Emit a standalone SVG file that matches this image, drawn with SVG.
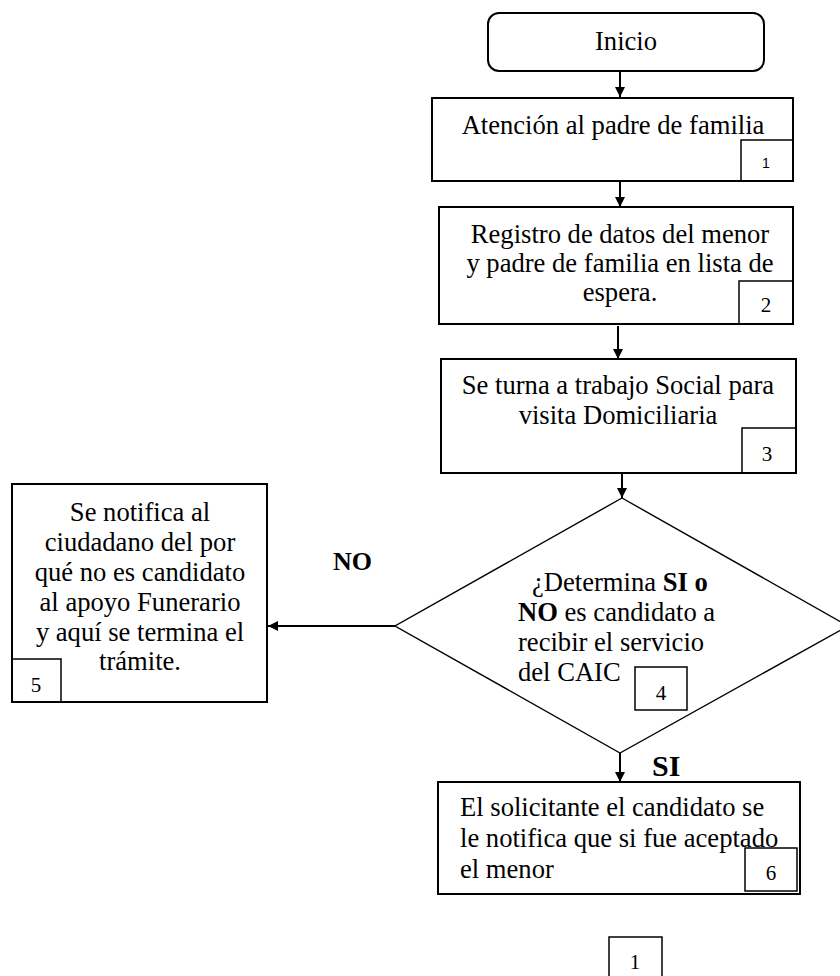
<svg xmlns="http://www.w3.org/2000/svg" width="840" height="976" viewBox="0 0 840 976">
  <style>
    .box { fill: #fff; stroke: #000; stroke-width: 2; }
    .tag { fill: none; stroke: #000; stroke-width: 1.5; }
    .dia { fill: #fff; stroke: #000; stroke-width: 1.4; }
    text { font-family: 'Liberation Serif', serif; fill: #000; }
    .t { font-size: 26.6px; }
    .c { text-anchor: middle; }
    .n { font-size: 21px; text-anchor: middle; }
    .ns { font-family: 'Liberation Sans', sans-serif; font-size: 14px; text-anchor: middle; }
    .lbl { font-weight: bold; }
    .line { stroke: #000; stroke-width: 2; fill: none; }
  </style>
  <defs>
    <marker id="ah" viewBox="0 0 10 10" refX="10" refY="5" markerWidth="5" markerHeight="6" markerUnits="strokeWidth" orient="auto">
      <path d="M0,0 L10,5 L0,10 z" fill="#000"/>
    </marker>
  </defs>

  <g id="connectors">
    <line class="line" x1="620" y1="71" x2="620" y2="97" marker-end="url(#ah)"/>
    <line class="line" x1="620" y1="181" x2="620" y2="207" marker-end="url(#ah)"/>
    <line class="line" x1="618" y1="326" x2="618" y2="359" marker-end="url(#ah)"/>
    <line class="line" x1="622" y1="473" x2="622" y2="498" marker-end="url(#ah)"/>
    <line class="line" x1="620" y1="753" x2="620" y2="782" marker-end="url(#ah)"/>
    <line class="line" x1="395" y1="626" x2="268" y2="626" marker-end="url(#ah)"/>
  </g>

  <g id="inicio">
    <rect class="box" x="488" y="13" width="276" height="58" rx="11"/>
    <text class="t c" x="626" y="50">Inicio</text>
  </g>

  <g id="paso1">
    <rect class="box" x="432" y="98" width="361" height="83"/>
    <text class="t c" x="613" y="134" font-size="28">Atención al padre de familia</text>
    <rect class="tag" x="741" y="140" width="52" height="41"/>
    <text class="ns" x="766" y="168">1</text>
  </g>

  <g id="paso2">
    <rect class="box" x="439" y="207" width="354" height="117"/>
    <text class="t c" x="620" y="243" font-size="26.4">Registro de datos del menor</text>
    <text class="t c" x="620" y="272" font-size="26.4">y padre de familia en lista de</text>
    <text class="t c" x="620" y="301" font-size="26.4">espera.</text>
    <rect class="tag" x="739" y="281" width="54" height="43"/>
    <text class="n" x="766" y="312">2</text>
  </g>

  <g id="paso3">
    <rect class="box" x="441" y="359" width="355" height="114"/>
    <text class="t c" x="618" y="394">Se turna a trabajo Social para</text>
    <text class="t c" x="618" y="424">visita Domiciliaria</text>
    <rect class="tag" x="742" y="428" width="54" height="45"/>
    <text class="n" x="767" y="461">3</text>
  </g>

  <g id="decision4">
    <polygon class="dia" points="622,498 848,626 620,753 395,626"/>
    <text class="t" x="532" y="591" font-size="26.4">¿Determina <tspan font-weight="bold">SI o</tspan></text>
    <text class="t" x="518" y="621" font-size="26.4"><tspan font-weight="bold">NO</tspan> es candidato a</text>
    <text class="t" x="518" y="651" font-size="26.4">recibir el servicio</text>
    <text class="t" x="518" y="681" font-size="26.4">del CAIC</text>
    <rect class="tag" x="635" y="667" width="52" height="43"/>
    <text class="n" x="661" y="700">4</text>
  </g>

  <g id="paso5">
    <rect class="box" x="12" y="484" width="255" height="218"/>
    <text class="t c" x="140" y="521" font-size="25">Se notifica al</text>
    <text class="t c" x="140" y="551" font-size="25">ciudadano del por</text>
    <text class="t c" x="140" y="581" font-size="25">qué no es candidato</text>
    <text class="t c" x="140" y="611" font-size="25">al apoyo Funerario</text>
    <text class="t c" x="140" y="641" font-size="25">y aquí se termina el</text>
    <text class="t c" x="140" y="670" font-size="25">trámite.</text>
    <rect class="tag" x="12" y="659" width="49" height="43"/>
    <text class="n" x="36" y="692">5</text>
  </g>

  <g id="paso6">
    <rect class="box" x="438" y="782" width="362" height="112"/>
    <text class="t" x="460" y="816">El solicitante el candidato se</text>
    <text class="t" x="460" y="847">le notifica que si fue aceptado</text>
    <text class="t" x="460" y="878">el menor</text>
    <rect class="tag" x="745" y="848" width="52" height="43"/>
    <text class="n" x="771" y="880">6</text>
  </g>

  <g id="etiquetas">
    <text class="lbl" x="333" y="570" font-size="26">NO</text>
    <text class="lbl" x="652" y="776" font-size="30">SI</text>
  </g>

  <g id="pagina">
    <rect class="tag" x="609" y="937" width="53" height="45"/>
    <text class="n" x="635" y="969">1</text>
  </g>
</svg>
